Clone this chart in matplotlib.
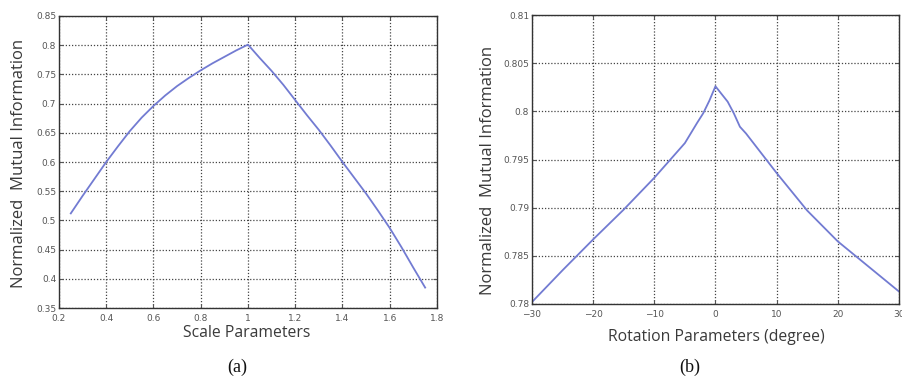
import matplotlib.pyplot as plt

# (a) scale parameters vs normalized mutual information
scale_x = [0.25, 0.30, 0.35, 0.40, 0.45, 0.50, 0.55, 0.60, 0.65, 0.70, 0.75, 0.80,
           0.85, 0.90, 0.95, 1.00, 1.05, 1.10, 1.15, 1.20, 1.25, 1.30, 1.35, 1.40,
           1.45, 1.50, 1.55, 1.60, 1.65, 1.70, 1.75]
scale_nmi = [0.512, 0.542, 0.571, 0.600, 0.627, 0.653, 0.676, 0.696, 0.714, 0.730,
             0.744, 0.757, 0.769, 0.780, 0.791, 0.801, 0.778, 0.756, 0.732, 0.706,
             0.680, 0.655, 0.628, 0.600, 0.573, 0.546, 0.517, 0.487, 0.454, 0.419,
             0.385]

# (b) rotation parameters (degree) vs normalized mutual information
rot_x = [-30, -25, -20, -15, -10, -5, -3, -2, -1, 0, 1, 2, 3, 4, 5, 10, 15, 20, 25, 30]
rot_nmi = [0.7802, 0.7835, 0.7867, 0.7898, 0.7931, 0.7967, 0.7988, 0.7998, 0.8011,
           0.8026, 0.8018, 0.8010, 0.7998, 0.7984, 0.7977, 0.7936, 0.7897, 0.7865,
           0.7839, 0.7813]

scale_xticks = [0.2, 0.4, 0.6, 0.8, 1, 1.2, 1.4, 1.6, 1.8]
scale_xlabels = ["0.2", "0.4", "0.6", "0.8", "1", "1.2", "1.4", "1.6", "1.8"]
scale_yticks = [0.35, 0.4, 0.45, 0.5, 0.55, 0.6, 0.65, 0.7, 0.75, 0.8, 0.85]
scale_ylabels = ["0.35", "0.4", "0.45", "0.5", "0.55", "0.6", "0.65", "0.7", "0.75", "0.8", "0.85"]
rot_xticks = [-30, -20, -10, 0, 10, 20, 30]
rot_yticks = [0.78, 0.785, 0.79, 0.795, 0.8, 0.805, 0.81]
rot_ylabels = ["0.78", "0.785", "0.79", "0.795", "0.8", "0.805", "0.81"]

line_color = "#727bd2"
text_color = "#3a3a3a"
sans = "Open Sans"

fig = plt.figure(figsize=(9.03, 3.79), dpi=100)
ax1 = fig.add_axes([0.0653, 0.1873, 0.4186, 0.7705])
ax2 = fig.add_axes([0.5891, 0.1979, 0.4064, 0.7625])

def style(ax):
    ax.grid(True, color="#444444", linestyle=(0, (1, 1.5)), linewidth=0.9)
    ax.tick_params(direction="in", length=3, labelsize=6.5, colors="#555555",
                   top=True, right=True)
    ax.tick_params(axis="x", pad=4)
    ax.tick_params(axis="y", pad=2)
    for s in ax.spines.values():
        s.set_color("#333333")
        s.set_linewidth(1.0)

ax1.plot(scale_x, scale_nmi, color=line_color, linewidth=1.3)
ax1.set_xlim(0.2, 1.8)
ax1.set_ylim(0.35, 0.85)
ax1.set_xticks(scale_xticks)
ax1.set_xticklabels(scale_xlabels)
ax1.set_yticks(scale_yticks)
ax1.set_yticklabels(scale_ylabels)
style(ax1)

ax2.plot(rot_x, rot_nmi, color=line_color, linewidth=1.3)
ax2.set_xlim(-30, 30)
ax2.set_ylim(0.78, 0.81)
ax2.set_xticks(rot_xticks)
ax2.set_yticks(rot_yticks)
ax2.set_yticklabels(rot_ylabels)
style(ax2)

# axis titles
fig.text(247 / 903, 1 - 333 / 379, "Scale Parameters", ha="center", va="center",
         fontsize=11.3, family=sans, color=text_color)
fig.text(19 / 903, 1 - 163 / 379, "Normalized  Mutual Information", ha="center",
         va="center", rotation=90, fontsize=12, family=sans, color=text_color)
fig.text(716 / 903, 1 - 337 / 379, "Rotation Parameters (degree)", ha="center",
         va="center", fontsize=11.3, family=sans, color=text_color)
fig.text(488 / 903, 1 - 170 / 379, "Normalized  Mutual Information", ha="center",
         va="center", rotation=90, fontsize=12, family=sans, color=text_color)

# panel captions
fig.text(237 / 903, 1 - 367 / 379, "(a)", ha="center", va="center", fontsize=13,
         family="Liberation Serif", color="#111111")
fig.text(690 / 903, 1 - 367 / 379, "(b)", ha="center", va="center", fontsize=13,
         family="Liberation Serif", color="#111111")

fig.savefig("out.png", dpi=100, facecolor="white")
